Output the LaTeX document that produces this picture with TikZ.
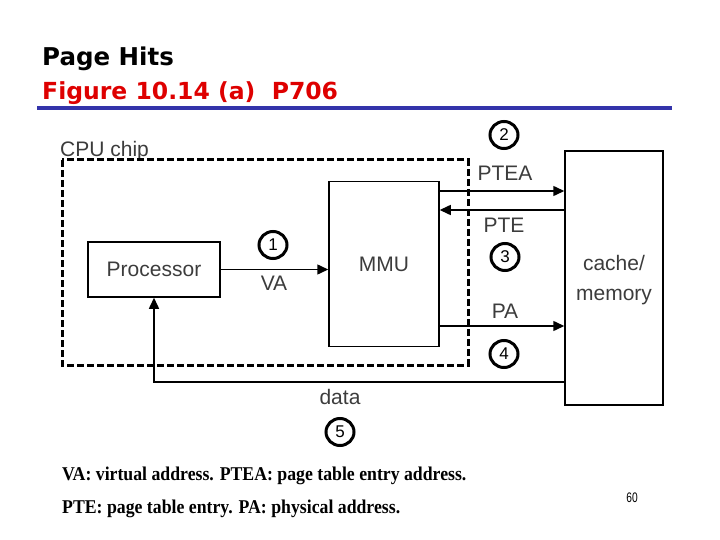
\documentclass[tikz,border=0pt]{standalone}
\usepackage{fontspec}
\setmainfont{Liberation Serif}
\newfontfamily\titlefont{DejaVu Sans}
\newfontfamily\diagfont{Liberation Sans}
\usetikzlibrary{arrows.meta}
\definecolor{titlered}{RGB}{222,0,0}
\definecolor{rulebl}{RGB}{51,51,170}
\definecolor{lblgray}{RGB}{60,60,60}
\tikzset{
  boxnode/.style={draw=black, line width=1.5pt, inner sep=0pt},
  lbl/.style={text=lblgray, font=\diagfont\fontsize{21}{24}\selectfont, inner sep=0pt},
  numc/.style={inner sep=0pt, minimum width=30pt, minimum height=29pt, font=\diagfont\fontsize{17}{17}\selectfont,
    append after command={\pgfextra{\let\lastnumnode\tikzlastnode}}},
  ring/.style={draw=black, line width=3pt},
  arr/.style={line width=1.5pt, -{Triangle[length=11pt,width=10pt]}},
  footn/.style={anchor=base west, inner sep=0pt, font=\bfseries\fontsize{19.5}{22}\selectfont},
}
\begin{document}
\begin{tikzpicture}[x=1pt,y=-1pt]
\useasboundingbox (0,0) rectangle (720,540);
% titles
\node[anchor=base west, inner sep=0pt, font=\titlefont\bfseries\fontsize{24.5}{28}\selectfont] (t1) at (42,66) {Page Hits};
\node[anchor=base west, inner sep=0pt, text=titlered, font=\titlefont\bfseries\fontsize{23.5}{28}\selectfont] (t2) at (42,100) {Figure 10.14 (a)\ \ P706};
\draw[rulebl, line width=4pt] (37,108) -- (672,108);
% CPU chip
\node[lbl, anchor=base west] (cpu) at (60,157) {CPU chip};
\draw[line width=3pt, dash pattern=on 7pt off 3pt] (62,160) rectangle (468,365);
% boxes
\node[boxnode, minimum width=132pt, minimum height=55pt] (proc) at (154,269.5) {};
\node[lbl] at (proc.center) {Processor};
\node[boxnode, minimum width=110pt, minimum height=165pt] (mmu) at (384,264) {};
\node[lbl] at (384,264) {MMU};
\node[boxnode, minimum width=98pt, minimum height=254pt] (mem) at (614,278) {};
\node[lbl, align=center, font=\diagfont\fontsize{21}{30}\selectfont] at (614,280) {cache/\\memory};
% step numbers
\node[numc] (n1) at (273,245) {1};
\node[numc] (n2) at (504,135) {2};
\node[numc] (n3) at (505,257) {3};
\node[numc] (n4) at (504,354) {4};
\node[numc] (n5) at (340,432) {5};
\foreach \n in {n1,n2,n3,n4,n5}
  \draw[ring] (\n.center) ellipse [x radius=14pt, y radius=13.5pt];
% VA
\draw[arr] (proc.east) -- (mmu.west |- proc.east);
\node[lbl] (va) at (274,283) {VA};
% PTEA
\coordinate (ptea-s) at (mmu.east |- 0,191);
\coordinate (ptea-e) at (mem.west |- 0,191);
\draw[arr] (ptea-s) -- (ptea-e);
\node[lbl] (ptea) at (505,173) {PTEA};
% PTE
\coordinate (pte-s) at (mem.west |- 0,210);
\coordinate (pte-e) at (mmu.east |- 0,210);
\draw[arr] (pte-s) -- (pte-e);
\node[lbl] (pte) at (504,225) {PTE};
% PA
\coordinate (pa-s) at (mmu.east |- 0,326);
\coordinate (pa-e) at (mem.west |- 0,326);
\draw[arr] (pa-s) -- (pa-e);
\node[lbl] (pa) at (505,311) {PA};
% data
\coordinate (d-s) at (mem.west |- 0,382);
\coordinate (d-c) at (proc.south |- 0,382);
\draw[arr] (d-s) -- (d-c) -- (proc.south);
\node[lbl] (data) at (340,397) {data};
% footnotes
\node[footn] (f1) at (62,480) {\scalebox{0.91}[1]{VA: virtual address. PTEA: page table entry address.}};
\node[footn] (f2) at (62,513) {\scalebox{0.91}[1]{PTE: page table entry. PA: physical address.}};
\node[inner sep=0pt, font=\diagfont\fontsize{12}{13}\selectfont] (pg) at (632,498) {\scalebox{0.85}[1.15]{60}};
\end{tikzpicture}
\end{document}
